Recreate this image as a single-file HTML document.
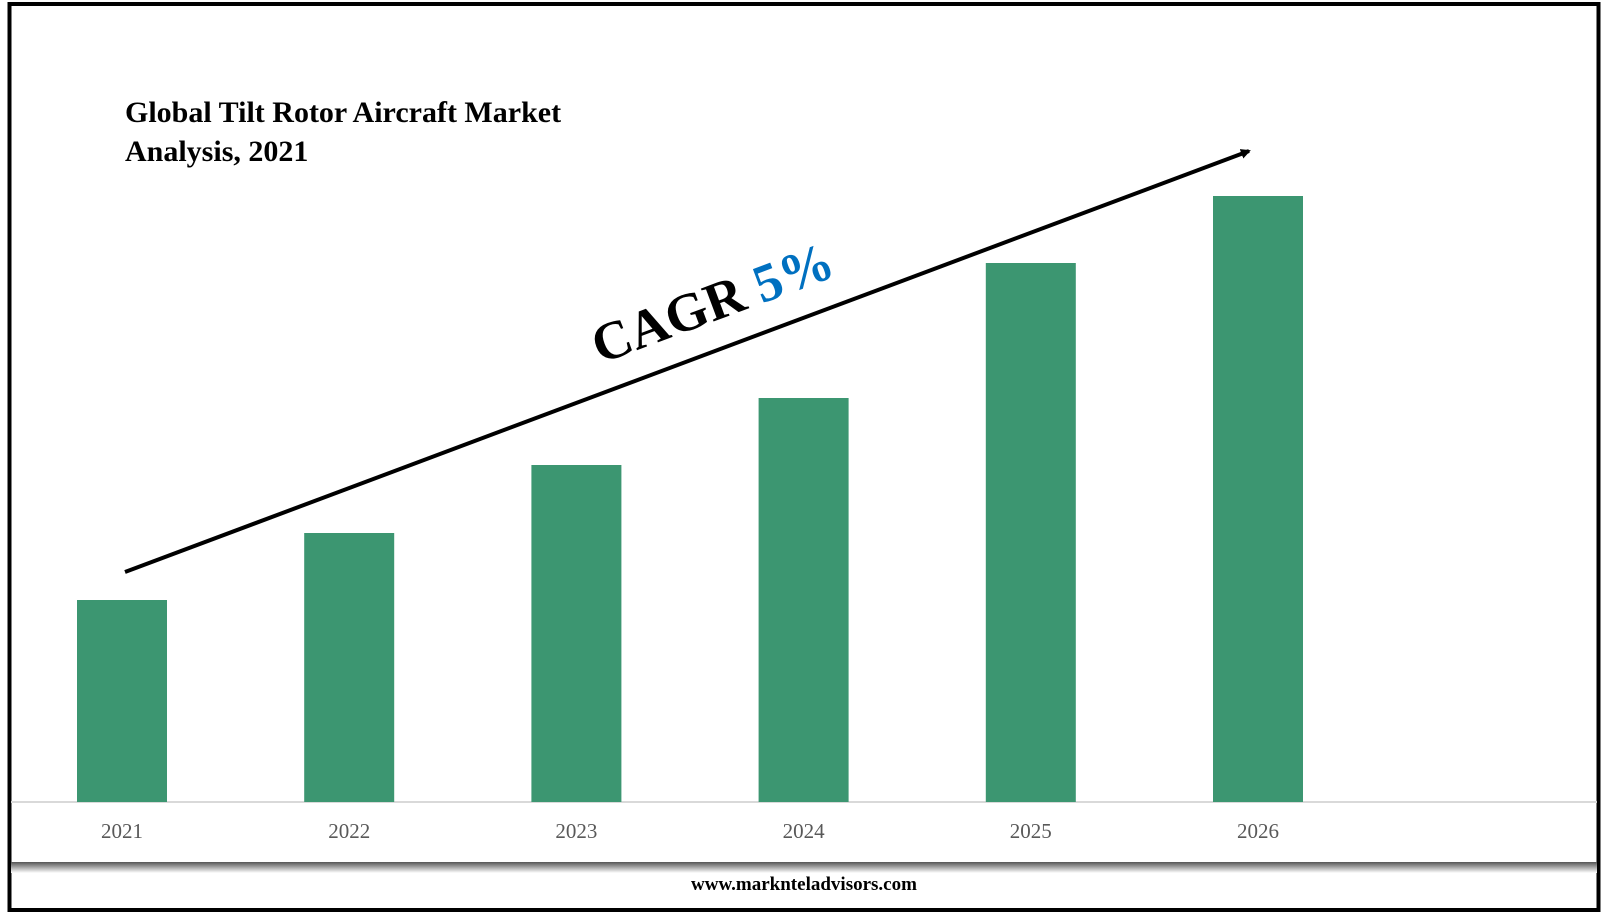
<!DOCTYPE html>
<html><head><meta charset="utf-8"><style>
body{margin:0;width:1608px;height:916px;background:#fff;overflow:hidden;font-family:"Liberation Serif",serif}
</style></head><body>
<svg width="1608" height="916">
<defs><linearGradient id="sh" x1="0" y1="0" x2="0" y2="1"><stop offset="0" stop-color="#555"/><stop offset="1" stop-color="#fff"/></linearGradient>
<marker id="ah" markerWidth="10" markerHeight="10" refX="8" refY="5" orient="auto" markerUnits="userSpaceOnUse"><path d="M0,0 L10,5 L0,10 z" fill="#000"/></marker></defs>
<rect x="9.5" y="4" width="1589" height="906" fill="#fff" stroke="#000" stroke-width="4"/>
<rect x="11" y="862" width="1586" height="11" fill="url(#sh)"/>
<text x="125" y="122" font-size="30" font-weight="bold">Global Tilt Rotor Aircraft Market</text>
<text x="125" y="161" font-size="30" font-weight="bold">Analysis, 2021</text>
<line x1="11" y1="802" x2="1597" y2="802" stroke="#d9d9d9" stroke-width="2"/>
<g id="bars"></g><g id="labels"></g>
<line x1="125" y1="572" x2="1249" y2="151" stroke="#000" stroke-width="4" marker-end="url(#ah)"/>
<text transform="translate(600,364) rotate(-20.5)" font-size="54" font-weight="bold">CAGR <tspan fill="#0070c0">5%</tspan></text>
<text x="804" y="890" font-size="19" font-weight="bold" text-anchor="middle">www.marknteladvisors.com</text>
</svg>
<script>
const categories=["2021","2022","2023","2024","2025","2026"];
const values=[202,269,337,404,539,606];
const x0=77,step=227.2,bw=90,base=802,yScale=1.0;
function xPos(i){return x0+i*step;}
function yPos(v){return base-v*yScale;}
const ns="http://www.w3.org/2000/svg";
const bars=document.getElementById('bars'),labels=document.getElementById('labels');
categories.forEach((c,i)=>{
 const r=document.createElementNS(ns,'rect');
 r.setAttribute('x',xPos(i));r.setAttribute('y',yPos(values[i]));
 r.setAttribute('width',bw);r.setAttribute('height',base-yPos(values[i]));
 r.setAttribute('fill','#3c9671');
 
 
 bars.appendChild(r);
 const t=document.createElementNS(ns,'text');
 t.setAttribute('x',xPos(i)+bw/2);t.setAttribute('y',838);
 t.setAttribute('text-anchor','middle');t.setAttribute('font-size','21');t.setAttribute('fill','#595959');
 t.textContent=c;
 
 
 labels.appendChild(t);
});
</script>
</body></html>
